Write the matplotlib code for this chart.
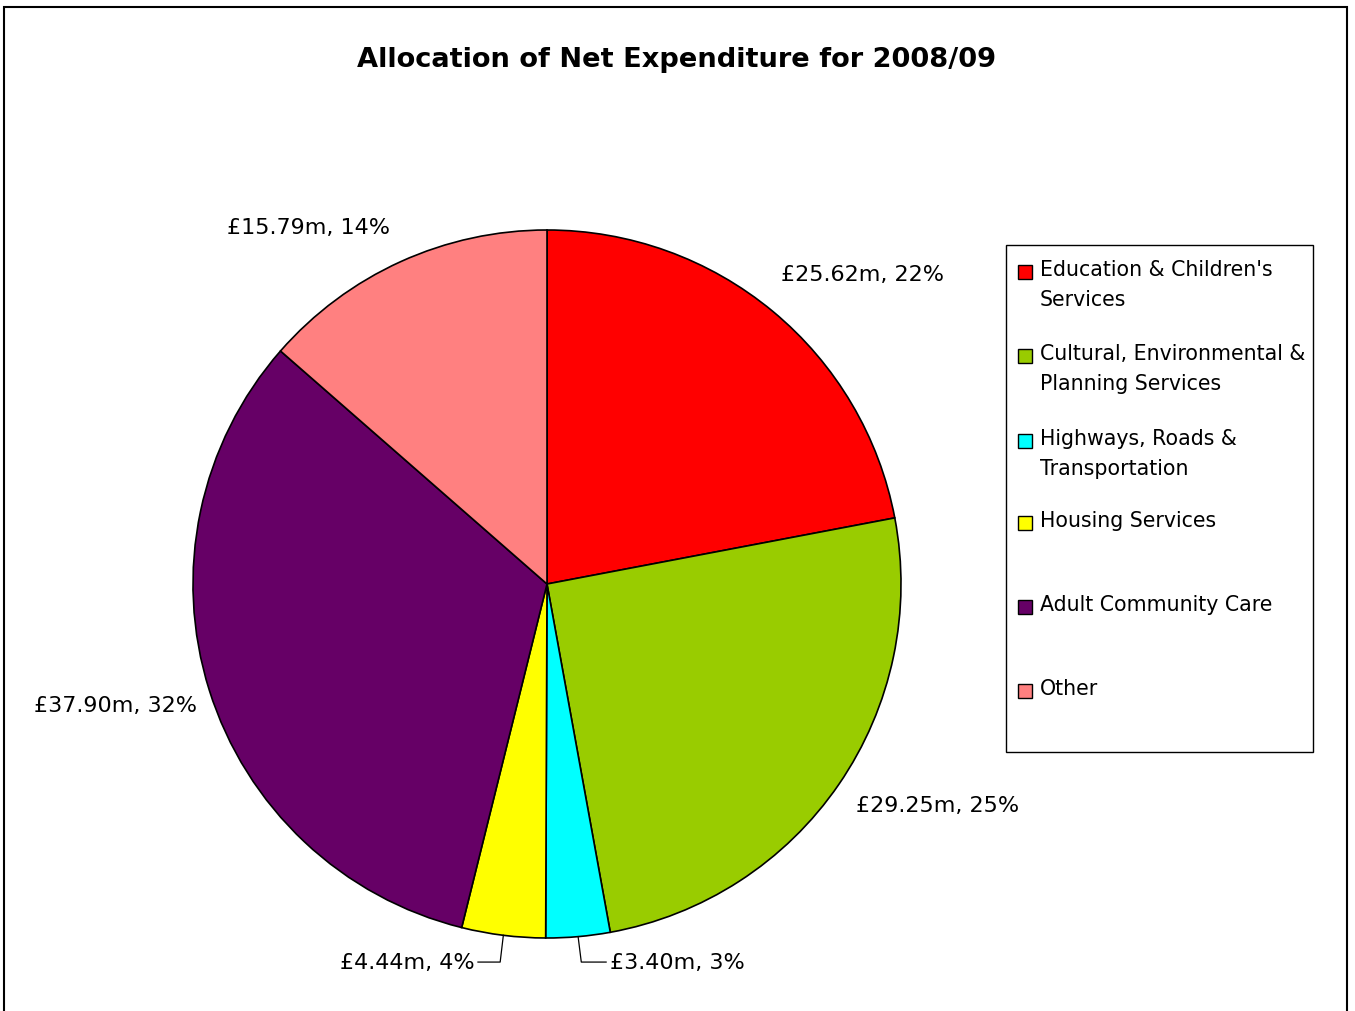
import numpy as np
import matplotlib
matplotlib.use("Agg")
import matplotlib.pyplot as plt
from matplotlib.patches import Rectangle

categories = ["Education & Children's\nServices",
              "Cultural, Environmental &\nPlanning Services",
              "Highways, Roads &\nTransportation",
              "Housing Services",
              "Adult Community Care",
              "Other"]
values = [25.62, 29.25, 3.40, 4.44, 37.90, 15.79]
percents = [22, 25, 3, 4, 32, 14]
colors = ["#FF0000", "#99CC00", "#00FFFF", "#FFFF00", "#660066", "#FF8080"]

plt.rcParams['font.family'] = ['DejaVu Sans']

fig = plt.figure(figsize=(13.55, 10.12), dpi=100)

# outer chart frame (bottom edge falls outside the picture)
fig.patches.append(Rectangle((4 / 1355, -0.01), 1343 / 1355, 1 - 8 / 1012 + 0.01,
                             transform=fig.transFigure, fill=False,
                             edgecolor="black", linewidth=1.5))

fig.text(677 / 1355, 1 - 60 / 1012, "Allocation of Net Expenditure for 2008/09",
         ha="center", va="center", fontsize=19.6, fontweight="bold")

# pie axes: centre (547, 585) px, radius 354 px
ax = fig.add_axes([(547 - 354) / 1355, (1012 - 585 - 354) / 1012, 708 / 1355, 708 / 1012])

wedges, _ = ax.pie(values, colors=colors, startangle=90, counterclock=False, radius=1,
                   wedgeprops=dict(edgecolor="black", linewidth=1.2))
ax.set_xlim(-1, 1)
ax.set_ylim(-1, 1)
ax.axis("off")
for w in wedges:
    w.set_clip_on(False)

# label positions in data units (pie radius = 1)
label_pos = [(0.89, 0.876), (1.102, -0.624), (0.367, -1.068),
             (-0.395, -1.068), (-1.22, -0.342), (-0.675, 1.009)]
leader = [False, False, True, True, False, False]

for w, v, p, (lx, ly), ld in zip(wedges, values, percents, label_pos, leader):
    txt = "£%.2fm, %d%%" % (v, p)
    ax.text(lx, ly, txt, ha="center", va="center", fontsize=16, clip_on=False)
    if ld:
        mid = np.deg2rad((w.theta1 + w.theta2) / 2)
        sx, sy = np.cos(mid), np.sin(mid)
        side = np.sign(lx)
        ex = sx + side * 0.009
        hx = lx - side * 0.20
        ax.plot([sx, ex, hx], [sy, ly, ly], color="black", linewidth=0.9, clip_on=False)

# legend box
lx0, ly0, lx1, ly1 = 1006, 246, 1313, 753
fig.patches.append(Rectangle((lx0 / 1355, 1 - ly1 / 1012), (lx1 - lx0) / 1355,
                             (ly1 - ly0) / 1012, transform=fig.transFigure,
                             fill=False, edgecolor="black", linewidth=1.0))
entry_y = [273, 357, 442, 524, 608, 692]
for lab, c, yy in zip(categories, colors, entry_y):
    fig.patches.append(Rectangle((1018 / 1355, 1 - (yy + 7) / 1012), 14 / 1355, 14 / 1012,
                                 transform=fig.transFigure, facecolor=c,
                                 edgecolor="black", linewidth=1.0))
    fig.text(1040 / 1355, 1 - (yy - 13) / 1012, lab, ha="left", va="top",
             fontsize=14.8, linespacing=1.62)

fig.savefig("out.png", dpi=100)
